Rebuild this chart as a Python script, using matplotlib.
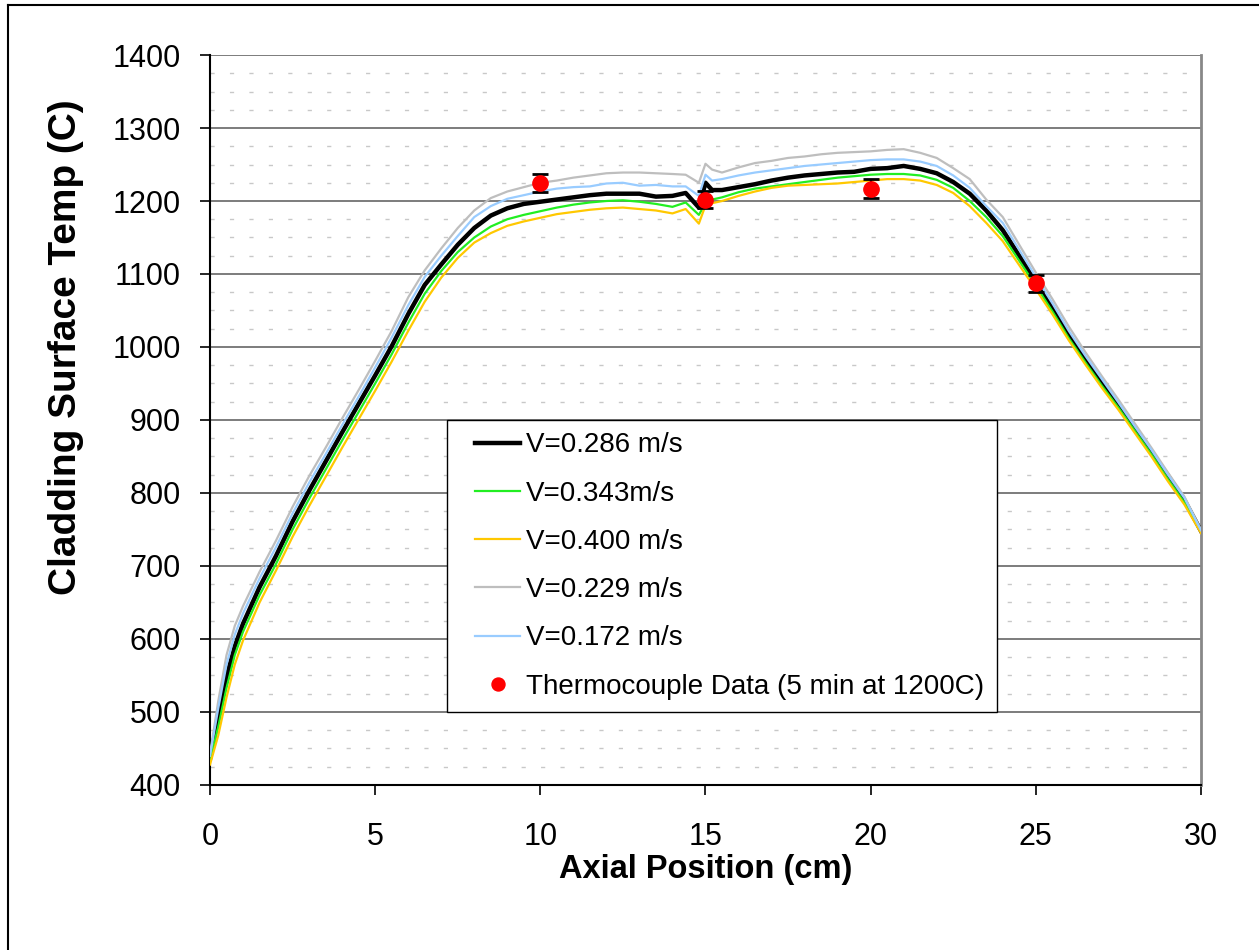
import numpy as np
import matplotlib.pyplot as plt
from matplotlib.ticker import MultipleLocator
from matplotlib.lines import Line2D
from matplotlib.legend_handler import HandlerLine2D

plt.rcParams['font.family'] = ['Liberation Sans', 'DejaVu Sans']

# axial position (cm) shared by all model curves
x_cm = [0, 0.25, 0.5, 0.75, 1,
        1.5, 2, 2.5, 3, 3.5, 4, 4.5, 5, 5.5, 6, 6.5, 7, 7.5, 8, 8.5, 9, 9.5,
        10, 10.5, 11, 11.5, 12, 12.5, 13, 13.5, 14,
        14.4, 14.8, 15.0, 15.2,
        15.5, 16, 16.5, 17, 17.5, 18, 18.5, 19, 19.5, 20, 20.5, 21, 21.5,
        22, 22.5, 23, 23.5, 24, 24.5, 25, 25.5, 26, 26.5, 27, 27.5, 28,
        28.5, 29, 29.5, 30]

v0286 = [436, 492, 548, 590, 621,
         671, 714, 761, 803, 843, 883, 922, 961, 1001, 1045, 1085, 1113, 1140,
         1163, 1180, 1190, 1196, 1199, 1202, 1205, 1208, 1210, 1210, 1210, 1206, 1207,
         1211, 1191, 1225, 1215,
         1215, 1219, 1223, 1228, 1232, 1235, 1237, 1239, 1240, 1244, 1245, 1248, 1244,
         1238, 1226, 1210, 1187, 1160, 1125, 1089, 1053, 1017, 982, 951, 920, 888,
         856, 824, 790, 748]

v0343 = [433, 480, 533, 578, 610,
         660, 703, 750, 792, 832, 872, 911, 950, 990, 1033, 1073, 1104, 1130,
         1150, 1165, 1175, 1181, 1186, 1191, 1195, 1198, 1200, 1201, 1199, 1196, 1192,
         1198, 1181, 1197, 1202,
         1205, 1212, 1217, 1220, 1223, 1226, 1229, 1232, 1234, 1236, 1237, 1237, 1235,
         1229, 1218, 1200, 1178, 1152, 1118, 1084, 1049, 1012, 979, 947, 917, 885,
         853, 819, 787, 747]

v0400 = [428, 468, 520, 565, 598,
         650, 694, 740, 782, 822, 862, 901, 940, 980, 1022, 1062, 1095, 1122,
         1143, 1156, 1166, 1172, 1177, 1182, 1185, 1188, 1190, 1191, 1189, 1187, 1183,
         1189, 1169, 1194, 1197,
         1200, 1207, 1213, 1218, 1221, 1222, 1223, 1224, 1226, 1228, 1230, 1230, 1228,
         1222, 1211, 1193, 1170, 1145, 1112, 1079, 1045, 1009, 976, 944, 914, 882,
         850, 816, 784, 745]

v0229 = [442, 515, 578, 618, 645,
         692, 735, 781, 823, 862, 902, 941, 981, 1022, 1068, 1105, 1135, 1163,
         1187, 1204, 1213, 1219, 1225, 1228, 1232, 1235, 1238, 1239, 1239, 1238, 1237,
         1236, 1225, 1251, 1243,
         1239, 1246, 1252, 1255, 1259, 1261, 1264, 1266, 1267, 1268, 1270, 1271, 1266,
         1259, 1245, 1230, 1202, 1178, 1140, 1102, 1066, 1028, 993, 960, 928, 895,
         862, 828, 795, 750]

v0172 = [440, 505, 565, 606, 635,
         683, 726, 772, 814, 853, 893, 932, 972, 1013, 1057, 1096, 1125, 1152,
         1178, 1193, 1203, 1208, 1213, 1217, 1219, 1220, 1224, 1225, 1221, 1222, 1220,
         1220, 1207, 1236, 1228,
         1230, 1235, 1239, 1242, 1245, 1248, 1250, 1252, 1254, 1256, 1257, 1257, 1254,
         1248, 1235, 1218, 1193, 1170, 1133, 1096, 1060, 1022, 988, 956, 924, 891,
         859, 825, 793, 749]

# thermocouple measurements
tc_x = [10, 15, 20, 25]
tc_temp = [1225, 1202, 1217, 1087]
tc_err = [12, 12, 13, 11]

fig = plt.figure(figsize=(12.59, 9.5), dpi=100)
ax = fig.add_axes([0.1668, 0.1737, 0.7871, 0.7684])

ax.plot(x_cm, v0286, color='black', lw=3.2, label='V=0.286 m/s', zorder=3)
ax.plot(x_cm, v0343, color='#22EE22', lw=1.6, label='V=0.343m/s', zorder=3)
ax.plot(x_cm, v0400, color='#FFC800', lw=1.6, label='V=0.400 m/s', zorder=3)
ax.plot(x_cm, v0229, color='#BEBEBE', lw=1.6, label='V=0.229 m/s', zorder=3)
ax.plot(x_cm, v0172, color='#99CCFF', lw=1.6, label='V=0.172 m/s', zorder=3)

ax.errorbar(tc_x, tc_temp, yerr=tc_err, fmt='none', ecolor='black',
            elinewidth=1.5, capsize=6, capthick=2, zorder=4)
ax.plot(tc_x, tc_temp, 'o', color='red', ms=11, zorder=5,
        label='Thermocouple Data (5 min at 1200C)')

ax.set_xlim(0, 30)
ax.set_ylim(400, 1400)
ax.xaxis.set_major_locator(MultipleLocator(5))
ax.yaxis.set_major_locator(MultipleLocator(100))
ax.yaxis.set_minor_locator(MultipleLocator(25))

ax.grid(which='major', axis='y', color='#666666', lw=1.2, zorder=1)
ax.grid(which='minor', axis='y', color='#C8C8C8', lw=1.0,
        linestyle=(0, (3, 11)), zorder=1)
ax.set_axisbelow(True)

ax.tick_params(which='major', direction='out', length=7, width=1.2,
               labelsize=22, color='black')
ax.tick_params(axis='x', pad=20)
ax.tick_params(axis='y', pad=14)
ax.tick_params(which='minor', length=0)

ax.spines['top'].set_visible(False)
ax.spines['right'].set_color('#888888')
ax.spines['right'].set_linewidth(2)
ax.spines['left'].set_linewidth(1.5)
ax.spines['bottom'].set_linewidth(1.5)

ax.set_xlabel('Axial Position (cm)', fontsize=23.5, fontweight='bold')
ax.set_ylabel('Cladding Surface Temp (C)', fontsize=28, fontweight='bold')
ax.xaxis.set_label_coords(0.5, -0.095)
ax.yaxis.set_label_coords(-0.127, 0.6)

leg = ax.legend(loc='upper left', bbox_to_anchor=(0.239, 0.5), borderaxespad=0,
                fontsize=20, frameon=True, fancybox=False, shadow=False,
                framealpha=1, edgecolor='black', handlelength=2.2,
                handletextpad=0.2, labelspacing=0.8, borderpad=0.45,
                markerscale=0.85,
                handler_map={Line2D: HandlerLine2D(xpad=0.55)})
leg.get_frame().set_linewidth(1.0)
leg.set_zorder(6)

# outer chart border
fig.add_artist(Line2D([8 / 1259, 8 / 1259], [0, 1 - 5 / 950],
                      transform=fig.transFigure, color='black', lw=1.5))
fig.add_artist(Line2D([8 / 1259, 1], [1 - 5 / 950, 1 - 5 / 950],
                      transform=fig.transFigure, color='black', lw=1.5))

fig.savefig('out.png', dpi=100)
